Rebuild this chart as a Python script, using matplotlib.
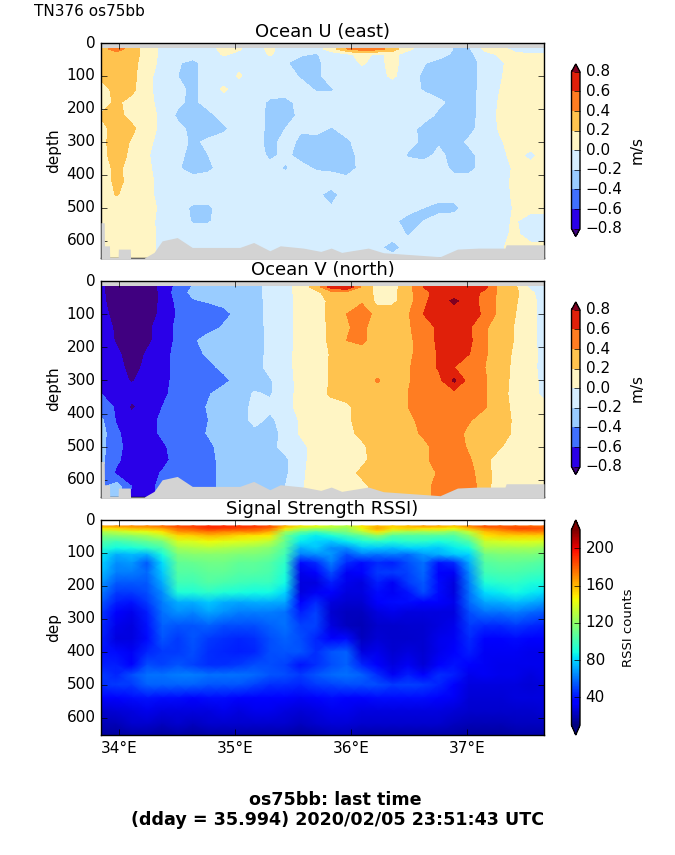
import matplotlib
matplotlib.use('Agg')
import matplotlib.pyplot as plt
from matplotlib.colors import ListedColormap, BoundaryNorm
import numpy as np

plt.style.use('classic')
plt.rcParams['figure.facecolor'] = 'white'
plt.rcParams['savefig.facecolor'] = 'white'

# longitude of the grid columns, depth of the grid rows
lons = [33.842, 33.975, 34.107, 34.240, 34.372, 34.505, 34.637, 34.770, 34.902, 35.035,
        35.168, 35.300, 35.433, 35.565, 35.698, 35.830, 35.963, 36.095, 36.228, 36.360,
        36.493, 36.626, 36.758, 36.891, 37.023, 37.156, 37.288, 37.421, 37.553, 37.667]
vel_depths = [18, 35, 60, 100, 140, 180, 220, 260, 300, 340, 380, 420, 460, 500, 540, 580, 620, 652]
rssi_depths = [18, 26, 36, 48, 65, 85, 105, 130, 160, 190, 220, 250, 280, 320, 360, 400, 440,
               470, 500, 540, 580, 620, 652]

# ocean U, cm/s
ocean_u = [
    [30,50,30,10,-5,-10,-10,-10,8,2,-10,5,-10,-10,-10,10,40,50,50,30,5,-10,0,-22,-22,5,5,-5,-10,-10],
    [30,30,30,10,-5,-10,-10,-10,2,-5,-10,2,-10,-18,-22,-10,-6,8,-5,6,-10,-10,-10,-25,-25,-8,3,3,2,2],
    [30,30,28,8,-5,-18,-26,-10,-10,-5,-10,-10,-18,-28,-26,-10,-8,2,-6,6,-10,-18,-28,-30,-30,-12,-3,8,10,10],
    [25,30,26,5,-8,-20,-26,-10,-10,2,-10,-10,-12,-22,-26,-10,-10,-8,-6,3,-10,-24,-30,-30,-30,-12,-2,10,10,10],
    [12,26,26,4,-8,-14,-26,-10,3,-10,-10,-10,-10,-12,-22,-22,-10,-10,-10,-10,-10,-22,-30,-26,-30,-10,0,10,10,5],
    [10,24,12,5,-6,-16,-25,-12,-10,-10,-10,-24,-26,-14,-10,-12,-10,-10,-10,-10,-10,-10,-16,-26,-28,-10,2,10,10,10],
    [22,26,14,8,-5,-24,-28,-26,-12,-10,-10,-26,-28,-16,-10,-10,-10,-10,-10,-10,-10,-12,-24,-30,-28,-10,3,10,10,10],
    [12,30,24,8,-5,-14,-26,-30,-24,-10,-10,-26,-20,-18,-12,-22,-12,-10,-10,-10,-12,-26,-28,-30,-26,-10,2,10,10,10],
    [14,30,18,5,-8,-12,-24,-16,-10,-10,-10,-28,-12,-24,-30,-30,-24,-10,-10,-10,-14,-24,-22,-28,-16,-10,-2,8,10,10],
    [14,28,16,2,-10,-14,-28,-20,-10,-10,-10,-24,-16,-26,-28,-30,-30,-12,-10,-10,-22,-26,-16,-26,-26,-10,-4,5,-5,8],
    [12,24,14,4,-10,-18,-28,-24,-12,-12,-10,-14,-22,-14,-22,-24,-30,-14,-10,-10,-10,-10,-10,-26,-26,-10,-8,3,6,8],
    [10,24,15,6,-8,-10,-12,-10,-10,-10,-10,-10,-10,-10,-10,-10,-12,-10,-10,-10,-10,-10,-10,-10,-10,-10,-8,5,8,8],
    [10,21,14,6,-8,-10,-10,-10,-10,-10,-10,-10,-10,-10,-15,-28,-10,-10,-10,-10,-10,-10,-10,-10,-10,-10,-8,4,8,8],
    [8,8,10,8,-5,-10,-24,-24,-10,-10,-10,-10,-10,-10,-10,-18,-10,-10,-10,-10,-10,-20,-28,-26,-10,-10,-8,2,8,8],
    [8,6,8,6,-6,-10,-22,-22,-10,-10,-10,-10,-15,-10,-10,-10,-10,-10,-10,-14,-30,-20,-10,-10,-10,-10,-4,2,-12,-12],
    [15,6,6,6,-5,-10,-10,-10,-10,-10,-10,-10,-10,-10,-10,-10,-10,-10,-10,-10,-22,-10,-10,-10,-10,-10,-4,3,-8,-8],
    [10,6,6,6,-5,-10,-10,-10,-10,-10,-10,-10,-10,-10,-10,-10,-10,-10,-15,-30,-10,-10,-10,-10,-10,-10,-2,5,5,5],
    [5,5,5,5,-5,-10,-10,-10,-10,-10,-10,-10,-10,-10,-10,-10,-10,-10,-10,-12,-10,-10,-10,-10,-10,-10,-2,5,5,5],
]

# ocean V, cm/s
ocean_v = [
    [-75,-95,-95,-95,-72,-55,-38,-30,-30,-30,-28,-12,-8,10,28,70,80,35,14,12,32,60,70,70,70,65,32,22,-5,-10],
    [-75,-95,-95,-95,-75,-50,-35,-30,-30,-30,-28,-12,-8,8,15,30,32,35,14,14,35,50,72,72,70,55,35,25,3,-8],
    [-75,-92,-95,-93,-75,-55,-42,-38,-36,-28,-28,-14,-8,6,10,25,30,36,14,15,32,55,72,83,72,50,35,22,6,-8],
    [-72,-88,-95,-90,-75,-58,-50,-52,-44,-36,-28,-14,-6,5,8,28,40,55,30,30,38,60,70,72,65,58,32,20,6,-8],
    [-68,-84,-95,-84,-72,-55,-50,-48,-38,-32,-30,-14,-6,5,8,25,38,46,26,26,38,48,64,72,62,42,32,18,6,-8],
    [-68,-82,-90,-84,-72,-55,-44,-30,-32,-30,-30,-14,-7,6,8,25,40,45,26,22,36,48,64,70,64,42,32,18,6,-8],
    [-65,-76,-90,-78,-70,-52,-48,-36,-30,-30,-30,-14,-6,6,8,22,28,28,25,22,36,48,62,66,60,42,30,16,6,-6],
    [-62,-74,-86,-76,-70,-52,-50,-46,-34,-28,-28,-14,-6,6,10,22,28,28,28,28,38,50,62,60,46,40,30,14,5,-6],
    [-62,-72,-82,-72,-70,-50,-50,-50,-46,-32,-30,-22,-8,6,10,22,28,28,42,30,38,50,54,84,50,42,28,14,5,-4],
    [-60,-72,-72,-70,-66,-50,-50,-42,-30,-30,-18,-22,-8,6,8,24,28,28,30,30,40,50,52,52,50,42,26,14,5,-4],
    [-52,-62,-84,-70,-60,-50,-50,-38,-30,-30,-14,-16,-8,7,8,10,16,28,30,30,40,50,52,52,50,42,26,16,8,5],
    [-36,-62,-72,-70,-55,-50,-48,-40,-30,-30,-14,-24,-12,2,8,10,18,24,30,30,32,50,52,52,42,28,25,18,8,8],
    [-32,-56,-72,-70,-56,-50,-50,-38,-30,-30,-26,-28,-14,2,7,10,14,25,30,30,30,44,52,52,32,28,28,16,8,8],
    [-35,-52,-72,-70,-64,-50,-50,-46,-30,-30,-30,-26,-14,-6,8,10,12,16,30,30,30,32,52,52,36,26,22,8,8,8],
    [-35,-56,-72,-70,-68,-50,-50,-50,-30,-30,-30,-30,-24,-6,8,8,12,14,30,30,30,34,50,52,42,26,8,8,8,8],
    [-38,-64,-72,-70,-58,-50,-50,-50,-30,-30,-30,-30,-24,-4,8,8,8,26,30,30,30,30,42,50,46,28,9,8,8,8],
    [-45,-30,-60,-72,-50,-50,-50,-50,-30,-30,-30,-30,-20,-2,6,6,8,12,30,30,30,30,50,50,50,28,8,8,8,8],
    [-45,-30,-72,-72,-50,-50,-50,-50,-30,-30,-30,-30,-12,0,8,8,8,10,30,30,30,30,50,50,50,28,8,8,8,8],
]

# signal strength, counts
rssi = [
    [165,168,170,172,178,186,188,192,192,190,190,184,162,150,145,135,130,150,160,155,160,168,165,158,172,185,182,180,178,176],
    [148,152,158,160,165,178,182,190,188,186,182,178,150,130,125,125,120,145,165,150,155,150,150,145,160,172,178,185,185,182],
    [128,132,138,142,150,168,170,175,172,170,172,162,125,110,100,110,115,130,150,130,125,125,125,118,135,158,165,170,172,172],
    [115,118,120,125,135,152,155,160,158,152,150,148,112,92,85,90,100,108,120,105,105,105,105,105,120,150,155,155,155,155],
    [105,100,105,110,115,138,140,145,142,140,138,132,110,85,80,78,85,92,95,92,95,95,90,95,105,135,138,140,140,138],
    [95,88,90,95,102,125,128,130,128,125,122,118,105,72,78,65,65,78,78,75,80,80,78,85,90,125,125,125,125,122],
    [85,72,75,72,90,115,118,118,118,115,115,112,100,62,65,68,52,62,60,62,58,68,72,78,80,112,115,115,115,112],
    [80,65,68,55,82,108,110,112,112,108,108,105,95,38,45,62,45,38,45,42,52,60,40,45,72,105,108,108,106,104],
    [75,62,62,58,78,105,105,108,108,105,105,102,92,30,35,52,32,35,48,48,50,58,35,32,65,100,102,102,100,98],
    [68,55,55,55,72,100,100,105,102,100,98,98,88,28,28,42,30,28,42,32,48,55,38,28,62,92,95,96,92,90],
    [62,48,48,52,65,92,92,95,92,90,88,88,80,28,32,35,28,28,38,32,40,52,38,28,60,82,85,88,85,82],
    [55,42,40,48,62,72,72,78,72,70,72,72,70,35,45,28,25,25,35,38,38,35,35,30,58,70,72,75,72,68],
    [48,35,30,42,60,66,64,70,66,62,62,62,60,42,50,25,22,22,28,30,28,28,28,28,52,60,60,62,58,55],
    [45,30,28,40,56,54,54,56,52,52,52,56,60,50,50,28,22,20,24,24,25,25,28,30,48,45,45,48,45,42],
    [42,28,28,38,54,48,54,48,46,44,46,52,56,52,44,35,38,22,26,24,24,25,30,32,45,36,36,38,35,35],
    [40,38,32,44,48,48,52,46,44,42,44,52,54,54,46,54,56,28,30,25,28,25,30,35,42,32,32,32,30,30],
    [42,42,36,52,50,54,50,46,46,48,52,52,50,40,46,52,56,44,34,28,32,26,36,40,36,32,30,30,30,30],
    [48,44,52,60,60,62,62,60,60,60,58,54,52,48,54,58,60,56,46,32,42,36,46,42,30,32,30,30,28,30],
    [46,48,48,56,56,56,56,54,54,54,50,46,46,44,48,50,52,52,52,48,50,48,44,36,28,28,28,28,26,28],
    [36,36,38,40,38,38,36,38,38,36,36,36,36,32,36,38,36,36,38,38,38,38,36,32,26,26,26,28,28,28],
    [24,26,28,30,28,28,28,28,30,28,30,30,28,26,28,30,30,28,28,28,28,28,28,26,24,24,24,24,24,26],
    [20,20,24,24,22,24,22,24,24,24,24,24,24,22,24,26,26,24,24,24,24,24,24,22,20,20,20,22,22,22],
    [16,16,18,18,16,18,16,18,18,18,18,18,18,16,18,20,20,18,18,18,18,18,18,18,16,16,16,18,18,18],
]

# where the velocity data stops at the bottom
bottom_lons = [33.842, 33.870, 33.872, 33.915, 33.917, 33.990, 33.992, 34.095, 34.097, 34.215, 34.30, 34.37,
               34.50, 34.63, 35.04, 35.16, 35.30, 35.39, 35.59, 35.74, 35.83, 35.92, 36.15, 36.28, 36.77,
               36.92, 37.10, 37.33, 37.34, 37.667]
bottom_depths = [545, 545, 615, 615, 650, 650, 625, 625, 652, 652, 635, 600, 590, 620, 620, 605, 630, 615,
                 622, 632, 622, 635, 622, 636, 648, 625, 622, 622, 612, 612]

levels = [-0.8, -0.6, -0.4, -0.2, 0.0, 0.2, 0.4, 0.6, 0.8]
vel_colors = ['#2a00e8', '#4070ff', '#99ccff', '#d6eeff', '#fff5c4', '#ffc34f', '#ff7d22', '#e0200a']
rssi_ticks = [40, 80, 120, 160, 200]
lon_ticks = [34, 35, 36, 37]
lon_labels = ['34°E', '35°E', '36°E', '37°E']
depth_ticks = [0, 100, 200, 300, 400, 500, 600]

cmap = ListedColormap(vel_colors)
cmap.set_under('#400080')
cmap.set_over('#800020')
norm = BoundaryNorm(levels, cmap.N)

W, H = 675.0, 855.0
fig = plt.figure(figsize=(6.75, 8.55), dpi=100)

def make_axes(top, bottom):
    return fig.add_axes([101/W, 1 - bottom/H, 443/W, (bottom - top)/H])

def finish_axes(ax, title, ylabel):
    ax.set_xlim(33.842, 37.667)
    ax.set_ylim(652, 0)
    ax.set_xticks(lon_ticks)
    ax.set_yticks(depth_ticks)
    ax.tick_params(labelsize=11)
    ax.set_title(title, fontsize=13, pad=4.5)
    ax.set_ylabel(ylabel, fontsize=11, labelpad=4)

def make_colorbar(mappable, top, bottom, label, labelsize, ticks, pad):
    # the extend tips sit inside this box
    cax = fig.add_axes([571.5/W, 1 - bottom/H, 8.5/W, (bottom - top)/H])
    cb = fig.colorbar(mappable, cax=cax, extend='both', ticks=ticks)
    cb.ax.tick_params(labelsize=11, direction='in', length=4)
    cb.set_label(label, fontsize=labelsize, labelpad=pad)
    return cb

vel_panels = [(ocean_u, 'Ocean U (east)', 43, 258, 64, 236.5),
              (ocean_v, 'Ocean V (north)', 281, 497, 302, 474.5)]
for vals, title, top, bottom, cb_top, cb_bottom in vel_panels:
    ax = make_axes(top, bottom)
    ax.set_facecolor('lightgray')
    cs = ax.contourf(lons, vel_depths, np.array(vals) / 100.0, levels=levels, cmap=cmap, norm=norm, extend='both')
    ax.fill_between(bottom_lons, bottom_depths, 660, color='lightgray', lw=0, zorder=3)
    finish_axes(ax, title, 'depth')
    ax.set_xticklabels([])
    make_colorbar(cs, cb_top, cb_bottom, 'm/s', 11, levels, 5)

ax = make_axes(520, 735)
pm = ax.pcolormesh(lons, rssi_depths, np.array(rssi), cmap='jet', vmin=10, vmax=220, shading='gouraud')
finish_axes(ax, 'Signal Strength RSSI)', 'dep')
ax.set_xticks(lon_ticks)
ax.set_xticklabels(lon_labels)
make_colorbar(pm, 520, 735, 'RSSI counts', 9.5, rssi_ticks, 5)

fig.text(34/W, 1 - 12/H, 'TN376 os75bb', fontsize=11, va='center')
fig.text(338/W, 1 - 810/H, 'os75bb: last time \n(dday = 35.994) 2020/02/05 23:51:43 UTC',
         fontsize=12.6, fontweight='bold', ha='center', va='center', multialignment='center')

fig.savefig('out.png', dpi=100)
